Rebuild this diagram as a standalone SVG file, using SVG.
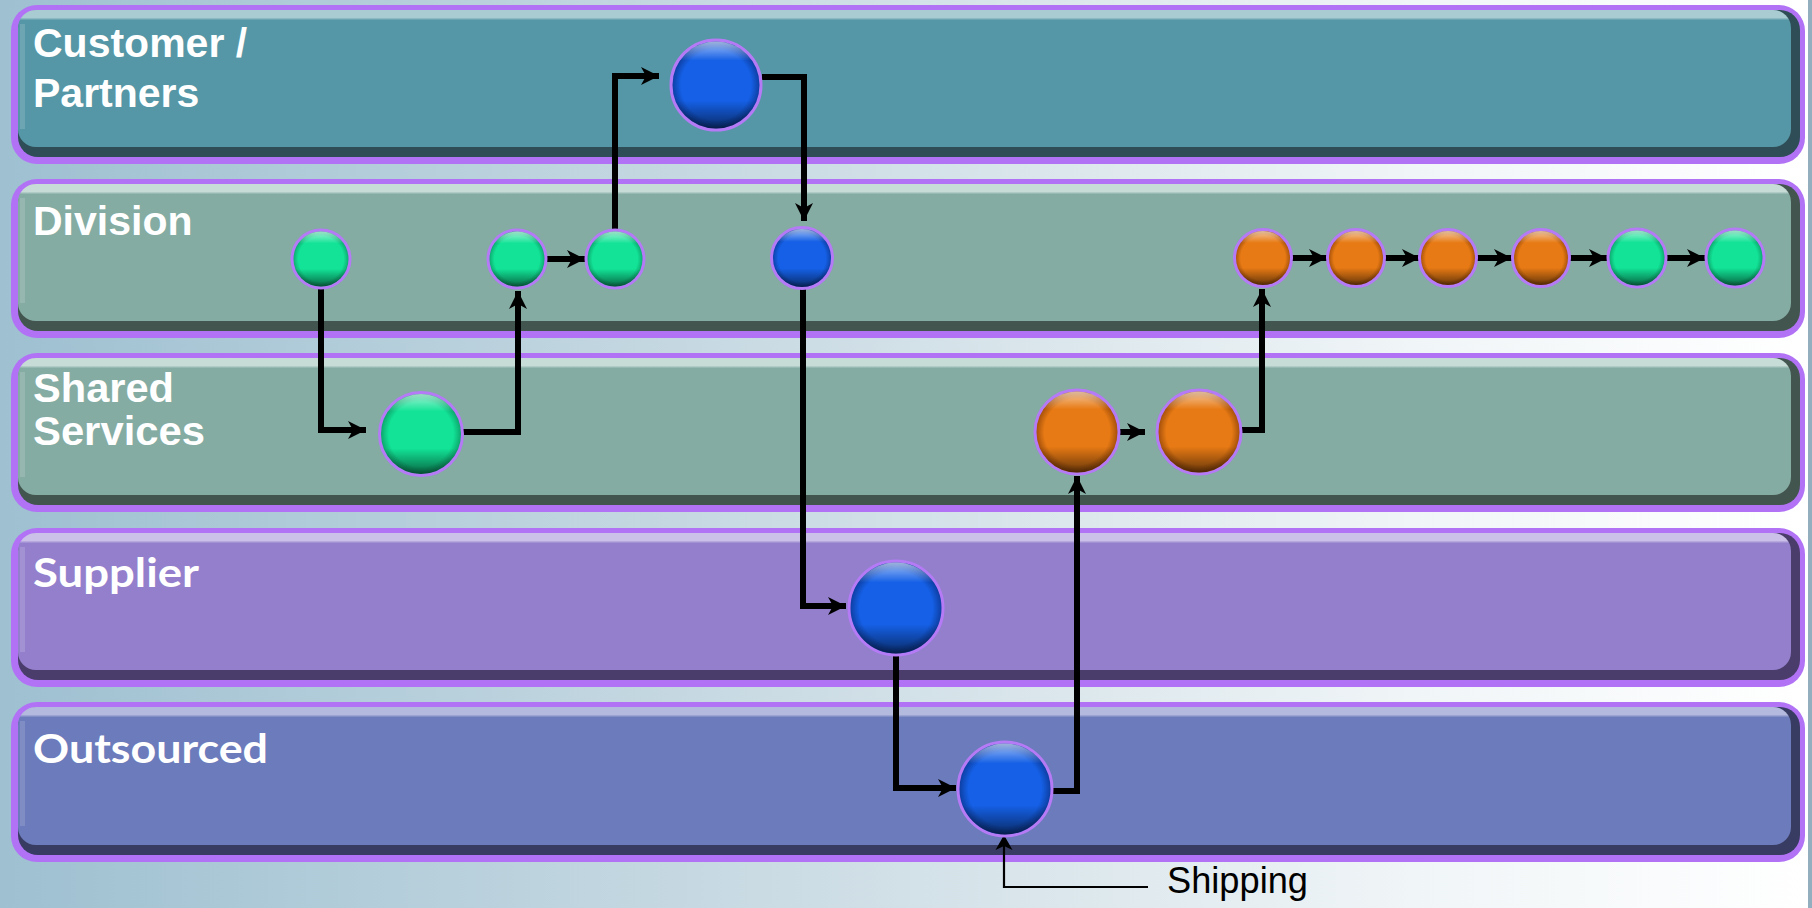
<svg xmlns="http://www.w3.org/2000/svg" width="1812" height="908" viewBox="0 0 1812 908">
<style>
.lbl{font-family:"Liberation Sans",Arial,sans-serif;font-weight:bold;font-size:41px;fill:#ffffff}
.lbl2{font-family:Lato,"Liberation Sans",sans-serif;font-weight:bold;font-size:40px;fill:#ffffff}
.border{fill:#b172f6}
.conn{fill:none;stroke:#000;stroke-width:6;stroke-linejoin:miter;stroke-linecap:butt}
.thin{fill:none;stroke:#000;stroke-width:2.2}
.node{stroke:#b57af5;stroke-width:3}
.shade{fill:url(#shade)}
.edge{fill:#ffffff;opacity:0.14}
</style>
<defs>
<linearGradient id="bg" x1="0" y1="0" x2="1" y2="0">
<stop offset="0" stop-color="#9ec0d1"/>
<stop offset="0.45" stop-color="#cddde5"/>
<stop offset="0.78" stop-color="#f0f5f7"/>
<stop offset="1" stop-color="#ffffff"/>
</linearGradient>
<linearGradient id="lg1" x1="0" y1="0" x2="0" y2="1">
<stop offset="0" stop-color="#a9ccd2"/><stop offset="0.055" stop-color="#a9ccd2"/><stop offset="0.075" stop-color="#5597a6"/><stop offset="1" stop-color="#5597a6"/>
</linearGradient>
<linearGradient id="lg2" x1="0" y1="0" x2="0" y2="1">
<stop offset="0" stop-color="#c8dcd7"/><stop offset="0.055" stop-color="#c8dcd7"/><stop offset="0.075" stop-color="#84aca3"/><stop offset="1" stop-color="#84aca3"/>
</linearGradient>
<linearGradient id="lg4" x1="0" y1="0" x2="0" y2="1">
<stop offset="0" stop-color="#cbc0e8"/><stop offset="0.055" stop-color="#cbc0e8"/><stop offset="0.075" stop-color="#937fcc"/><stop offset="1" stop-color="#937fcc"/>
</linearGradient>
<linearGradient id="lg5" x1="0" y1="0" x2="0" y2="1">
<stop offset="0" stop-color="#b3badd"/><stop offset="0.055" stop-color="#b3badd"/><stop offset="0.075" stop-color="#6c7bbb"/><stop offset="1" stop-color="#6c7bbb"/>
</linearGradient>
<radialGradient id="cg" cx="0.5" cy="0.5" r="0.5">
<stop offset="0" stop-color="#12e396"/><stop offset="0.78" stop-color="#12e396"/><stop offset="1" stop-color="#0b9c66"/>
</radialGradient>
<radialGradient id="cb" cx="0.5" cy="0.5" r="0.5">
<stop offset="0" stop-color="#1560e6"/><stop offset="0.78" stop-color="#1560e6"/><stop offset="1" stop-color="#0c3a9a"/>
</radialGradient>
<radialGradient id="co" cx="0.5" cy="0.5" r="0.5">
<stop offset="0" stop-color="#e77a14"/><stop offset="0.78" stop-color="#e77a14"/><stop offset="1" stop-color="#9a4a0a"/>
</radialGradient>
<linearGradient id="shade" x1="0" y1="0" x2="0" y2="1">
<stop offset="0" stop-color="#ffffff" stop-opacity="0.6"/>
<stop offset="0.22" stop-color="#ffffff" stop-opacity="0"/>
<stop offset="0.68" stop-color="#000000" stop-opacity="0"/>
<stop offset="1" stop-color="#000000" stop-opacity="0.55"/>
</linearGradient>
<marker id="ah" markerUnits="userSpaceOnUse" markerWidth="18" markerHeight="18" refX="18" refY="9" orient="auto" overflow="visible">
<path d="M0,0 L18,9 L0,18 L5,9 Z" fill="#000"/>
</marker>
<marker id="ahs" markerUnits="userSpaceOnUse" markerWidth="15" markerHeight="17" refX="15" refY="8.5" orient="auto" overflow="visible">
<path d="M0,0 L15,8.5 L0,17 L4,8.5 Z" fill="#000"/>
</marker>
</defs>

<rect x="0" y="0" width="1812" height="908" fill="url(#bg)"/>
<rect x="1808" y="0" width="4" height="908" fill="#93aebe"/>

<g id="lane-customer">
<rect class="border" x="11" y="5" width="1794" height="159" rx="26"/>
<rect x="18" y="10" width="1782" height="147" rx="20" fill="#2e4d56"/>
<rect x="18" y="10" width="1773" height="137" rx="18" fill="url(#lg1)"/>
<rect class="edge" x="20" y="24" width="5" height="105"/>
<text class="lbl" x="33" y="57">Customer /</text>
<text class="lbl" x="33" y="107">Partners</text>
</g>
<g id="lane-division">
<rect class="border" x="11" y="179" width="1794" height="159" rx="26"/>
<rect x="18" y="184" width="1782" height="147" rx="20" fill="#43554f"/>
<rect x="18" y="184" width="1773" height="137" rx="18" fill="url(#lg2)"/>
<rect class="edge" x="20" y="198" width="5" height="105"/>
<text class="lbl" x="33" y="235">Division</text>
</g>
<g id="lane-shared">
<rect class="border" x="11" y="353" width="1794" height="159" rx="26"/>
<rect x="18" y="358" width="1782" height="147" rx="20" fill="#43554f"/>
<rect x="18" y="358" width="1773" height="137" rx="18" fill="url(#lg2)"/>
<rect class="edge" x="20" y="372" width="5" height="105"/>
<text class="lbl" x="33" y="402" font-size="38" textLength="141" lengthAdjust="spacingAndGlyphs">Shared</text>
<text class="lbl" x="33" y="445" font-size="38" textLength="172" lengthAdjust="spacingAndGlyphs">Services</text>
</g>
<g id="lane-supplier">
<rect class="border" x="11" y="528" width="1794" height="159" rx="26"/>
<rect x="18" y="533" width="1782" height="147" rx="20" fill="#4a3d6b"/>
<rect x="18" y="533" width="1773" height="137" rx="18" fill="url(#lg4)"/>
<rect class="edge" x="20" y="547" width="5" height="105"/>
<text class="lbl2" x="33" y="587" textLength="166" lengthAdjust="spacingAndGlyphs">Supplier</text>
</g>
<g id="lane-outsourced">
<rect class="border" x="11" y="702" width="1794" height="160" rx="26"/>
<rect x="18" y="707" width="1782" height="148" rx="20" fill="#383c62"/>
<rect x="18" y="707" width="1773" height="138" rx="18" fill="url(#lg5)"/>
<rect class="edge" x="20" y="721" width="5" height="105"/>
<text class="lbl2" x="33" y="763" textLength="235" lengthAdjust="spacingAndGlyphs">Outsourced</text>
</g>

<g id="connectors">
<path class="conn" d="M321,289 V430 H366" marker-end="url(#ah)"/>
<path class="conn" d="M463,432 H518 V291" marker-end="url(#ah)"/>
<path class="conn" d="M546,259 H585" marker-end="url(#ah)"/>
<path class="conn" d="M615,230 V76 H659" marker-end="url(#ah)"/>
<path class="conn" d="M762,77 H804 V221" marker-end="url(#ah)"/>
<path class="conn" d="M803,289 V606 H846" marker-end="url(#ah)"/>
<path class="conn" d="M896,656 V788 H956" marker-end="url(#ah)"/>
<path class="conn" d="M1052,791 H1077 V476" marker-end="url(#ah)"/>
<path class="conn" d="M1119,432 H1145" marker-end="url(#ah)"/>
<path class="conn" d="M1241,430 H1262 V289" marker-end="url(#ah)"/>
<path class="conn" d="M1292,258 H1327" marker-end="url(#ah)"/>
<path class="conn" d="M1385,258 H1420" marker-end="url(#ah)"/>
<path class="conn" d="M1477,258 H1512" marker-end="url(#ah)"/>
<path class="conn" d="M1570,258 H1607" marker-end="url(#ah)"/>
<path class="conn" d="M1667,258 H1705" marker-end="url(#ah)"/>
<path class="thin" d="M1148,887 H1004 V835" marker-end="url(#ahs)"/>
</g>

<g id="n-customer"><circle class="node" cx="716" cy="85" r="45" fill="url(#cb)"/><circle class="shade" cx="716" cy="85" r="43.5"/></g>
<g id="n-div1"><circle class="node" cx="321" cy="259" r="29" fill="url(#cg)"/><circle class="shade" cx="321" cy="259" r="27.5"/></g>
<g id="n-div2"><circle class="node" cx="517" cy="259" r="29" fill="url(#cg)"/><circle class="shade" cx="517" cy="259" r="27.5"/></g>
<g id="n-div3"><circle class="node" cx="615" cy="259" r="29" fill="url(#cg)"/><circle class="shade" cx="615" cy="259" r="27.5"/></g>
<g id="n-div-blue"><circle class="node" cx="802" cy="258" r="30.5" fill="url(#cb)"/><circle class="shade" cx="802" cy="258" r="29"/></g>
<g id="n-div-o1"><circle class="node" cx="1263" cy="258" r="28.5" fill="url(#co)"/><circle class="shade" cx="1263" cy="258" r="27"/></g>
<g id="n-div-o2"><circle class="node" cx="1356" cy="258" r="28.5" fill="url(#co)"/><circle class="shade" cx="1356" cy="258" r="27"/></g>
<g id="n-div-o3"><circle class="node" cx="1448" cy="258" r="28.5" fill="url(#co)"/><circle class="shade" cx="1448" cy="258" r="27"/></g>
<g id="n-div-o4"><circle class="node" cx="1541" cy="258" r="28.5" fill="url(#co)"/><circle class="shade" cx="1541" cy="258" r="27"/></g>
<g id="n-div-g5"><circle class="node" cx="1637" cy="258" r="29" fill="url(#cg)"/><circle class="shade" cx="1637" cy="258" r="27.5"/></g>
<g id="n-div-g6"><circle class="node" cx="1735" cy="258" r="29" fill="url(#cg)"/><circle class="shade" cx="1735" cy="258" r="27.5"/></g>
<g id="n-shared-green"><circle class="node" cx="421" cy="434" r="41.5" fill="url(#cg)"/><circle class="shade" cx="421" cy="434" r="40"/></g>
<g id="n-shared-o1"><circle class="node" cx="1077" cy="432" r="42" fill="url(#co)"/><circle class="shade" cx="1077" cy="432" r="40.5"/></g>
<g id="n-shared-o2"><circle class="node" cx="1199" cy="432" r="42" fill="url(#co)"/><circle class="shade" cx="1199" cy="432" r="40.5"/></g>
<g id="n-supplier"><circle class="node" cx="896" cy="608" r="47" fill="url(#cb)"/><circle class="shade" cx="896" cy="608" r="45.5"/></g>
<g id="n-outsourced"><circle class="node" cx="1005" cy="789" r="47" fill="url(#cb)"/><circle class="shade" cx="1005" cy="789" r="45.5"/></g>

<g id="label-shipping">
<text x="1167" y="893" font-family="'Liberation Sans',Arial,sans-serif" font-size="36" fill="#000" textLength="141" lengthAdjust="spacingAndGlyphs">Shipping</text>
</g>
</svg>
